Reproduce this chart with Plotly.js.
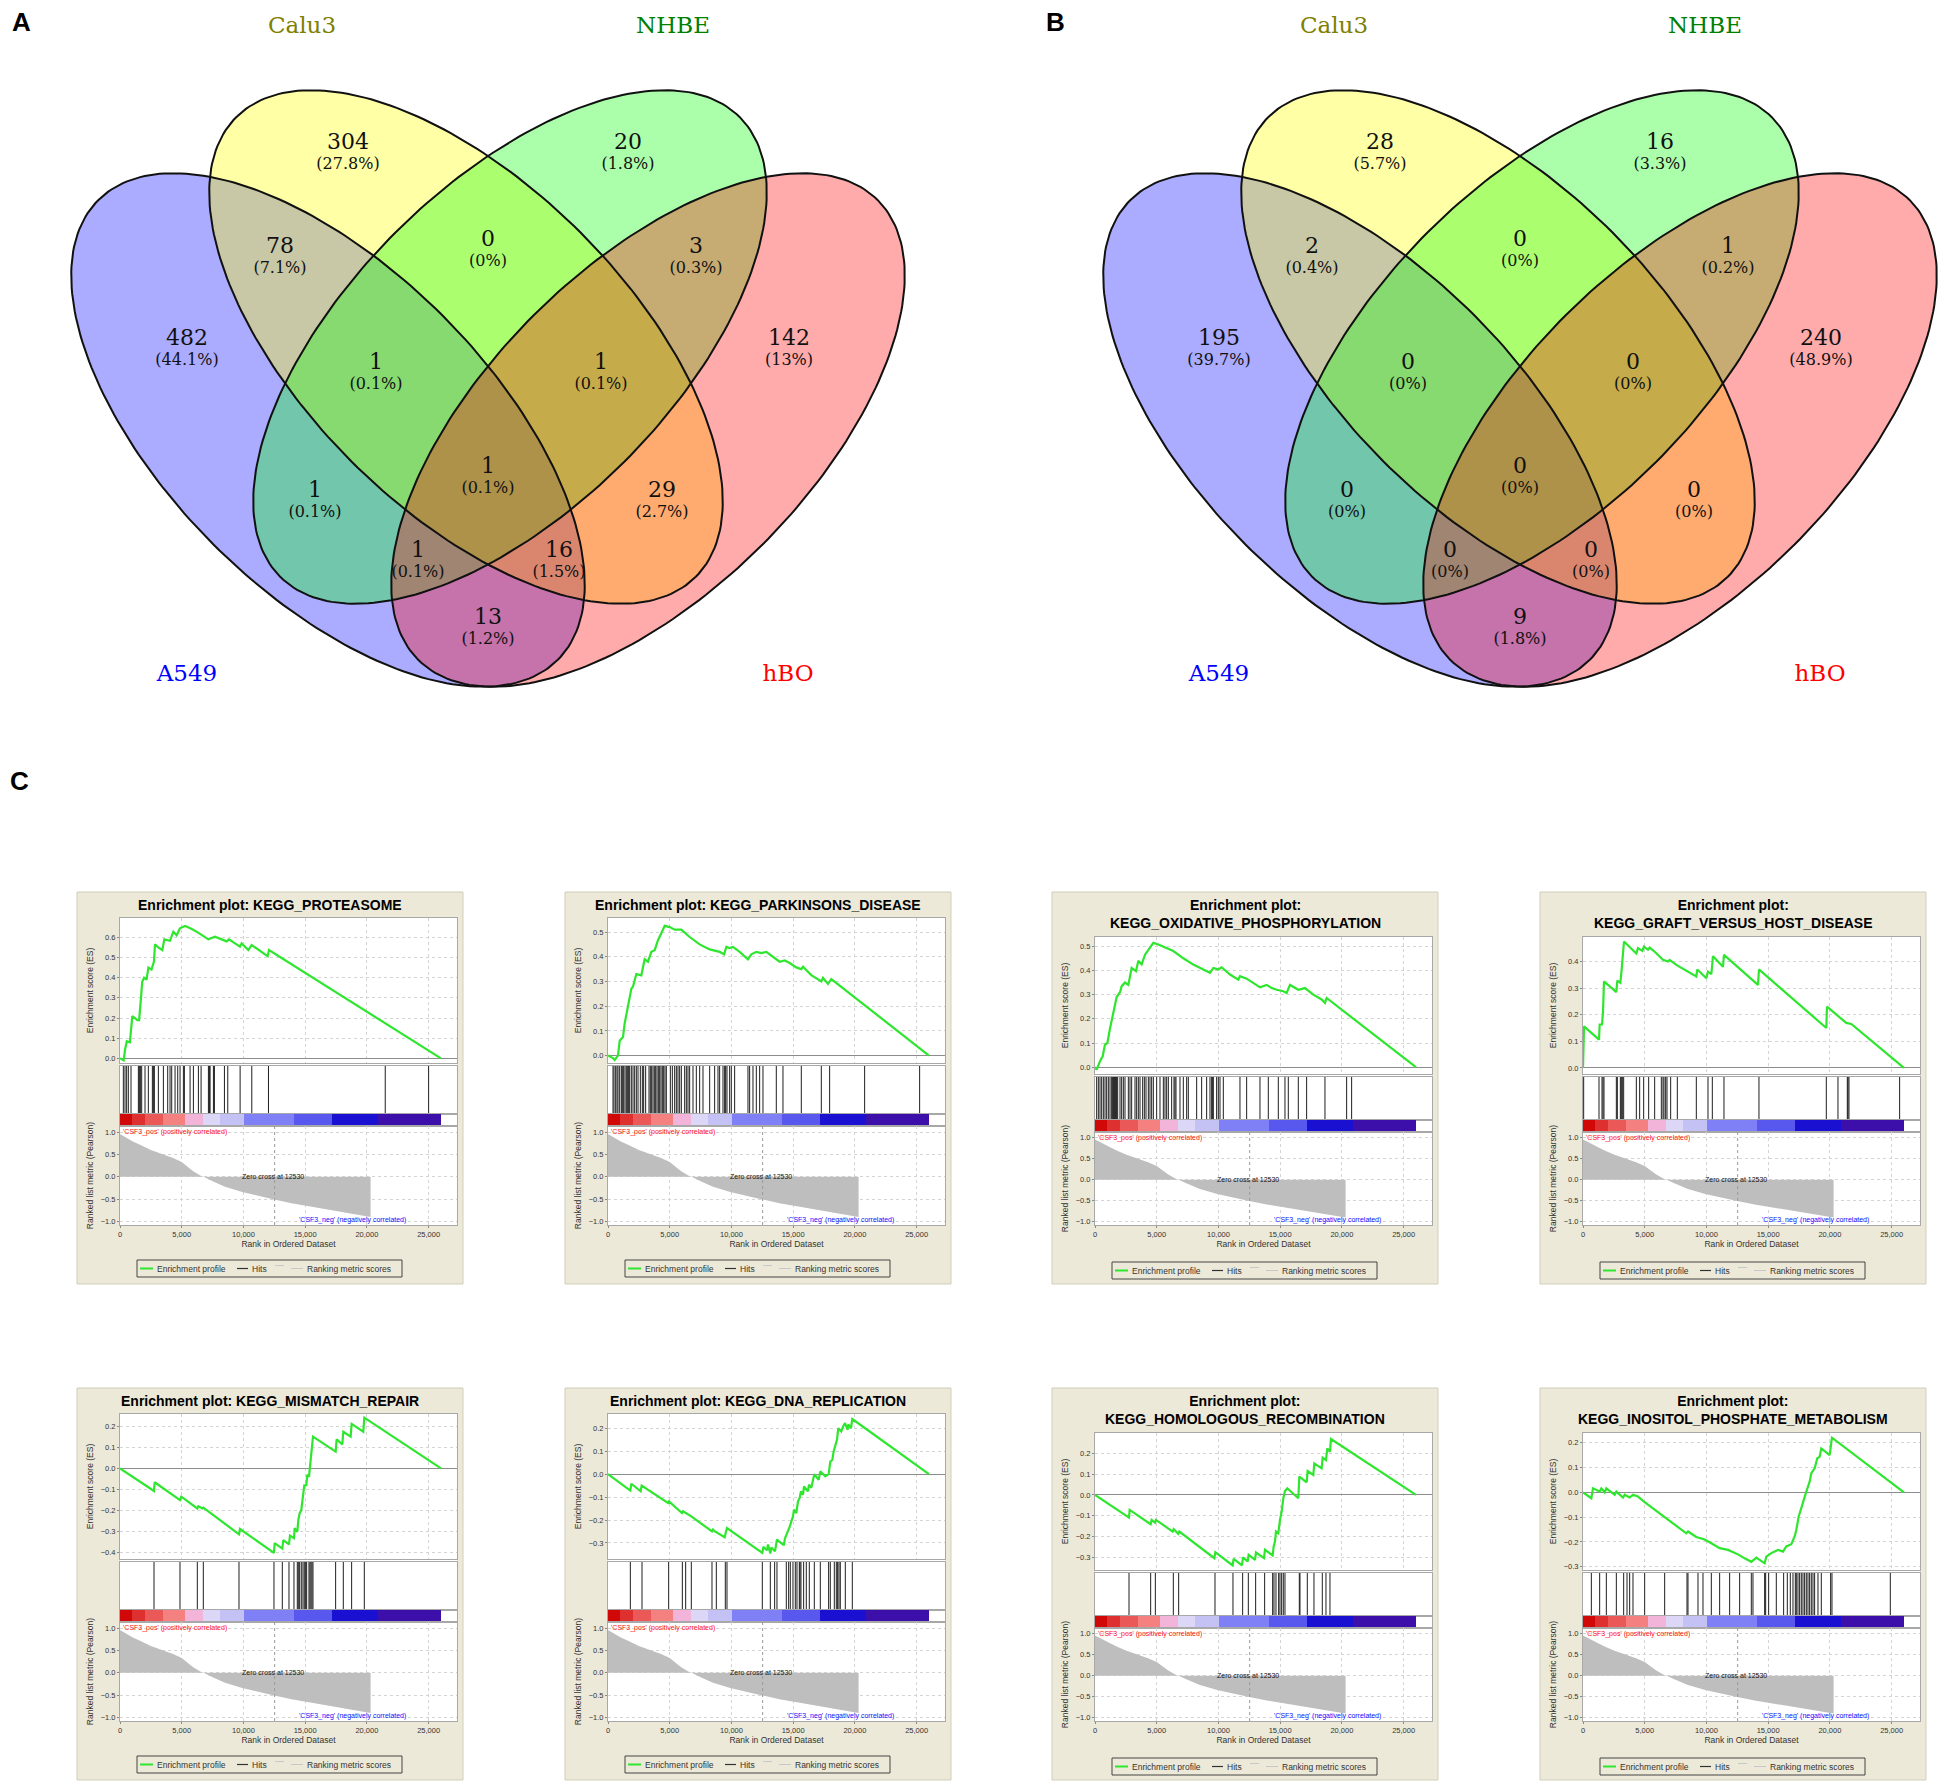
<!DOCTYPE html>
<html><head><meta charset="utf-8">
<script src="https://cdn.plot.ly/plotly-3.0.1.min.js"></script>
<style>html,body{margin:0;padding:0;background:#fff}</style>
</head><body><div id="chart" style="width:1950px;height:1790px"></div>
<script>
// ================= DATA =================
// Venn diagrams (regions in fixed order)
const setNames = ['A549','Calu3','NHBE','hBO'];
const regionKeys = ['A549','Calu3','NHBE','hBO','A549&Calu3','Calu3&NHBE','NHBE&hBO','A549&Calu3&NHBE','Calu3&NHBE&hBO','A549&Calu3&NHBE&hBO','A549&NHBE','Calu3&hBO','A549&NHBE&hBO','A549&Calu3&hBO','A549&hBO'];
const vennACounts = [482,304,20,142,78,0,3,1,1,1,1,29,1,16,13];
const vennAPercents = [44.1,27.8,1.8,13,7.1,0,0.3,0.1,0.1,0.1,0.1,2.7,0.1,1.5,1.2];
const vennBCounts = [195,28,16,240,2,0,1,0,0,0,0,0,0,0,9];
const vennBPercents = [39.7,5.7,3.3,48.9,0.4,0,0.2,0,0,0,0,0,0,0,1.8];

// GSEA enrichment plots
const pathways = ['KEGG_PROTEASOME','KEGG_PARKINSONS_DISEASE','KEGG_OXIDATIVE_PHOSPHORYLATION','KEGG_GRAFT_VERSUS_HOST_DISEASE','KEGG_MISMATCH_REPAIR','KEGG_DNA_REPLICATION','KEGG_HOMOLOGOUS_RECOMBINATION','KEGG_INOSITOL_PHOSPHATE_METABOLISM'];

const esRank1 = [0,300,400,550,800,900,1000,1400,1550,1700,1800,1950,2150,2300,2550,2750,2835,3100,3429,3591,4050,4320,4590,4860,5265,5700,6300,7155,7695,8640,8829,9720,9855,10395,10665,11961,12069,26000];
const esScore1 = [0,-0.01,0.04,0.085,0.08,0.16,0.21,0.19,0.19,0.30,0.38,0.40,0.39,0.45,0.44,0.48,0.565,0.55,0.537,0.59,0.583,0.628,0.61,0.645,0.656,0.645,0.625,0.59,0.603,0.58,0.59,0.554,0.57,0.537,0.562,0.507,0.537,0];
const hits1 = [270,405,540,676,892,1487,1568,1649,1757,2027,2297,2622,2703,2784,3108,3514,3865,4054,4189,4460,4676,4865,5135,5216,5676,5946,6351,6568,7162,7243,7297,7568,7649,8460,8730,9730,10676,12027,21487,25000];

const esRank2 = [0,400,540,810,945,1215,1350,1620,1890,2025,2295,2700,2970,3240,3510,3780,4050,4320,4590,5000,5400,5940,6615,7425,8235,9045,9400,9585,9855,10125,10665,11340,11610,12015,12420,12825,13365,13905,14310,14715,15255,15660,15795,16470,17280,17415,17820,18090,26000];
const esScore2 = [0,-0.01,-0.018,0,0.06,0.075,0.13,0.2,0.27,0.28,0.33,0.325,0.39,0.38,0.42,0.427,0.467,0.495,0.525,0.52,0.51,0.51,0.48,0.45,0.43,0.42,0.41,0.44,0.435,0.44,0.42,0.39,0.41,0.42,0.415,0.42,0.40,0.38,0.385,0.375,0.357,0.35,0.36,0.326,0.30,0.315,0.29,0.31,0];
const hits2 = [405,486,621,729,810,945,1080,1161,1269,1377,1485,1593,1674,1755,1890,2025,2160,2295,2430,2619,2781,2889,3051,3321,3429,3537,3645,3753,3861,3969,4077,4185,4293,4401,4509,4617,4725,5049,5211,5400,5535,5670,5805,5940,6210,6345,6480,6615,6885,7155,7425,7695,8235,8640,8910,9045,9315,9450,9531,9639,9855,9990,10260,11340,11475,11745,12015,12285,12555,13635,14175,15660,17280,17955,20790,25245];

const esRank3 = [0,135,405,621,810,1000,1215,1485,1755,2025,2160,2430,2700,2970,3321,3510,3780,4050,4320,4725,5130,5670,6345,7155,7965,8775,9315,9585,9990,10260,10935,11610,11745,12285,12825,13365,13905,14310,14715,15255,15525,15795,16470,17010,17685,18360,18630,18765,26000];
const esScore3 = [0,-0.01,0.025,0.045,0.094,0.1,0.16,0.22,0.29,0.31,0.335,0.35,0.34,0.41,0.397,0.44,0.425,0.465,0.486,0.514,0.507,0.496,0.48,0.45,0.424,0.404,0.39,0.41,0.404,0.413,0.383,0.362,0.376,0.366,0.348,0.33,0.34,0.327,0.32,0.314,0.307,0.34,0.32,0.327,0.30,0.28,0.266,0.286,0];
const hits3 = [135,270,405,540,675,810,945,1080,1215,1350,1431,1485,1539,1593,1647,1701,1755,1836,2025,2160,2295,2430,2700,2835,2970,3240,3375,3510,3645,3861,3996,4131,4320,4455,4590,4725,4995,5265,5535,5670,5805,5940,6210,6399,6480,6561,6885,7155,7425,7560,8235,8640,9045,9315,9450,9531,9585,9855,9990,10125,10395,11745,12285,13365,14040,14850,15390,15660,16470,17145,18630,20385,20790];

const esRank4 = [0,54,81,1296,1350,1539,1620,1700,2700,2781,3024,3105,3240,3321,4320,4455,4806,4941,5265,5400,5724,6480,6885,7020,7560,9180,9261,9990,10125,10395,10530,11340,11421,14175,14256,19710,19764,21330,21735,26000];
const esScore4 = [0,0.075,0.156,0.106,0.163,0.163,0.21,0.325,0.285,0.328,0.32,0.356,0.43,0.475,0.43,0.45,0.44,0.456,0.444,0.452,0.44,0.406,0.40,0.406,0.387,0.344,0.37,0.337,0.362,0.352,0.42,0.38,0.425,0.312,0.37,0.15,0.23,0.169,0.165,0];
const hits4 = [54,1296,1539,1620,1700,2700,2781,3024,3105,3186,3294,4320,4590,4914,5319,5805,6345,6480,6561,6696,6804,7101,7641,9180,10125,10476,11421,14256,19710,20655,21411,21465,21546,25650];

const esRank5 = [0,2754,2808,4860,4968,6264,6345,6669,6750,9639,9720,12474,12528,13149,13230,13689,13770,14094,14148,14364,14445,14553,14688,14823,14931,15093,15174,15309,15390,15471,15552,15633,17469,17550,18009,18090,18684,18765,19710,19791,26000];
const esScore5 = [0,-0.107,-0.066,-0.15,-0.134,-0.19,-0.18,-0.19,-0.186,-0.312,-0.287,-0.40,-0.354,-0.38,-0.34,-0.36,-0.318,-0.33,-0.283,-0.30,-0.245,-0.213,-0.197,-0.14,-0.08,-0.08,-0.03,-0.04,0.008,0.055,0.10,0.15,0.079,0.137,0.113,0.173,0.15,0.21,0.173,0.24,0];
const hits5 = [2754,4860,6264,6750,9639,12474,13149,13689,14094,14364,14445,14553,14688,14823,14931,15039,15120,15309,15390,15471,15552,15633,17469,18090,18765,19791];

const esRank6 = [0,1809,1890,2646,2727,4860,4941,5994,6075,6750,8424,8505,8667,9450,9558,9639,12501,12582,12879,12960,13149,13230,13527,13689,14175,14256,14337,14715,14985,15066,15255,15390,15525,15633,15795,15876,16200,16281,16470,16713,17064,17199,17604,17874,18009,18171,18279,18441,18549,18657,18900,19035,19200,19413,19467,19683,19791,26000];
const esScore6 = [0,-0.072,-0.042,-0.075,-0.05,-0.126,-0.119,-0.17,-0.162,-0.184,-0.25,-0.242,-0.25,-0.275,-0.25,-0.235,-0.343,-0.317,-0.332,-0.307,-0.346,-0.32,-0.336,-0.285,-0.307,-0.307,-0.28,-0.23,-0.184,-0.155,-0.17,-0.12,-0.104,-0.075,-0.09,-0.054,-0.075,-0.046,-0.06,0.0,-0.025,0.012,-0.01,0.0,0.055,0.062,0.099,0.128,0.15,0.2,0.186,0.207,0.222,0.193,0.217,0.2,0.24,0];
const hits6 = [1809,2754,4914,6021,6291,6750,8424,8775,9504,9639,12501,13149,13500,13689,14445,14634,14769,14985,15174,15309,15498,15552,15633,15849,16065,16308,16713,17199,17874,18009,18333,18495,18603,18711,18819,19224,19791];

const esRank7 = [0,2754,2808,4509,4590,4860,4941,6291,6372,6750,6831,9666,9747,11151,11232,11907,11988,12366,12447,12960,13041,13689,13770,14391,14472,14580,14661,14850,14985,15120,15255,15390,15579,16470,16551,17145,17226,17685,17766,18360,18441,18711,18819,19035,19116,26000];
const esScore7 = [0,-0.109,-0.072,-0.141,-0.12,-0.133,-0.12,-0.176,-0.165,-0.187,-0.176,-0.304,-0.275,-0.339,-0.307,-0.339,-0.30,-0.32,-0.288,-0.312,-0.277,-0.304,-0.264,-0.291,-0.248,-0.224,-0.176,-0.184,-0.12,-0.08,-0.016,0.019,0.032,-0.016,0.088,0.061,0.115,0.096,0.152,0.128,0.179,0.168,0.224,0.208,0.269,0];
const hits7 = [2754,4509,4887,6345,6777,9720,11178,11961,12420,13014,13743,14391,14499,14661,14877,14985,15120,15255,15390,16551,16605,17199,17739,18414,18711,19035];

const esRank8 = [0,675,810,1350,1485,1755,1890,2565,2700,3240,3375,3780,4050,4455,4995,5805,6615,7425,8370,8505,9180,9855,10395,11070,11745,12555,13095,13635,14040,14310,14715,14850,15255,15795,16200,16470,16875,17145,17280,17469,17631,17820,18090,18360,18495,18765,18981,19170,19305,19980,20169,26000];
const esScore8 = [0,-0.024,0.016,0.003,0.016,0,0.016,-0.01,0.003,-0.021,-0.01,-0.021,-0.01,-0.017,-0.04,-0.071,-0.10,-0.13,-0.165,-0.158,-0.18,-0.19,-0.205,-0.225,-0.232,-0.25,-0.266,-0.28,-0.263,-0.272,-0.286,-0.259,-0.245,-0.232,-0.239,-0.218,-0.209,-0.178,-0.152,-0.098,-0.07,-0.044,0.003,0.043,0.077,0.097,0.137,0.143,0.177,0.15,0.22,0];
const hits8 = [675,1350,1890,2700,3294,3564,3780,4050,4995,6615,8424,8505,9315,9720,10395,11070,11880,12690,13635,13770,14715,14796,15039,15660,16254,16551,16794,17010,17199,17280,17415,17550,17685,17820,17955,18090,18225,18360,18495,18630,18765,19035,19305,20061,20169,24894];

// Ranked list metric (shared by all plots)
const metricRank  = [0,500,1000,1750,2500,3400,4300,5000,5900,6500,6800,7200,8500,9900,11200,12400,13900,15300,16600,18000,19300,20300];
const metricValue = [0.96,0.88,0.80,0.70,0.60,0.51,0.42,0.33,0.13,0.03,0.0,-0.06,-0.22,-0.34,-0.43,-0.50,-0.59,-0.66,-0.73,-0.79,-0.85,-0.90];
const zeroCross = 12530;
// colour strip of the ranked list (bin edges in rank, bin level index)
const cbEdges  = [0,945,2025,3510,5265,6696,8127,10071,14094,17199,20871,26000];
const cbLevels = [0,1,2,3,4,5,6,7,8,9,10];

// ================= STYLE / LAYOUT =================
const W = 1950, H = 1790;
const px = x => x / W, py = y => 1 - y / H;
const FONT = 'Liberation Sans, Arial, sans-serif';
const SERIF = 'DejaVu Serif, Liberation Serif, serif';
const cbColors = ['#d10808','#df3030','#ea5858','#f48080','#f3b4da','#dcd6f7','#c4c2f5','#8080f6','#5858ee','#1a10d2','#3c0eaa'];
const setFill = ['rgba(0,0,255,0.33)','rgba(255,255,0,0.35)','rgba(0,255,0,0.33)','rgba(255,0,0,0.33)'];
const setLabelColor = ['#0000ff','#808000','#008000','#ff0000'];
const vennCenters = [488, 1520];
const ellGeom = [{dx:-160,cy:430,ang:45},{dx:-22,cy:347,ang:45},{dx:22,cy:347,ang:135},{dx:160,cy:430,ang:135}];
const ellA = 325, ellB = 162;
const regionPos = [[-301,339],[-140,143],[140,143],[301,339],[-208,247],[0,240],[208,247],[-112,363],[113,363],[0,467],[-173,491],[174,491],[-70,551],[71,551],[0,618]];
const setLabelPos = [[-301,675],[-186,27],[185,27],[300,675]];

const traces = [];
const layout = {
  width: W, height: H, autosize: false,
  margin: {l:0, r:0, t:0, b:0, pad:0},
  paper_bgcolor: 'white', plot_bgcolor: 'rgba(0,0,0,0)',
  showlegend: false,
  font: {family: FONT, color: '#333'},
  xaxis: {domain:[0,1], range:[0,W], visible:false, fixedrange:true},
  yaxis: {domain:[0,1], range:[H,0], visible:false, fixedrange:true},
  shapes: [], annotations: []
};

// ---------- Venn ----------
function ellipsePts(cx, cy, a, b, angDeg) {
  const xs = [], ys = [], r = angDeg * Math.PI / 180;
  for (let k = 0; k <= 240; k++) {
    const t = 2 * Math.PI * k / 240, u = a * Math.cos(t), v = b * Math.sin(t);
    xs.push(cx + u * Math.cos(r) - v * Math.sin(r));
    ys.push(cy + u * Math.sin(r) + v * Math.cos(r));
  }
  return {xs, ys};
}
const vennData = [[vennACounts, vennAPercents], [vennBCounts, vennBPercents]];
vennCenters.forEach((Xc, vi) => {
  const pts = ellGeom.map(g => ellipsePts(Xc + g.dx, g.cy, ellA, ellB, g.ang));
  pts.forEach((p, si) => traces.push({x:p.xs, y:p.ys, mode:'lines', fill:'toself', fillcolor:setFill[si], line:{width:0, color:'rgba(0,0,0,0)'}, hoverinfo:'skip', xaxis:'x', yaxis:'y'}));
  pts.forEach(p => traces.push({x:p.xs, y:p.ys, mode:'lines', line:{width:2, color:'#111'}, hoverinfo:'skip', xaxis:'x', yaxis:'y'}));
  const [counts, pcts] = vennData[vi];
  traces.push({x:regionPos.map(r => Xc + r[0]), y:regionPos.map(r => r[1]), mode:'text', text:counts.map(String), textposition:'middle center', textfont:{family:SERIF, size:22, color:'#111'}, hoverinfo:'skip', xaxis:'x', yaxis:'y'});
  traces.push({x:regionPos.map(r => Xc + r[0]), y:regionPos.map(r => r[1] + 22), mode:'text', text:pcts.map(p => '(' + p + '%)'), textposition:'middle center', textfont:{family:SERIF, size:16, color:'#111'}, hoverinfo:'skip', xaxis:'x', yaxis:'y'});
  traces.push({x:setLabelPos.map(r => Xc + r[0]), y:setLabelPos.map(r => r[1]), mode:'text', text:setNames, textposition:'middle center', textfont:{family:SERIF, size:23, color:setLabelColor}, hoverinfo:'skip', xaxis:'x', yaxis:'y'});
});
[['A',21,22],['B',1055,22],['C',19,781]].forEach(([t,x,y]) => layout.annotations.push({text:'<b>'+t+'</b>', x:px(x), y:py(y), xref:'paper', yref:'paper', showarrow:false, xanchor:'center', yanchor:'middle', font:{family:FONT, size:26, color:'#000'}}));

// ---------- GSEA panels ----------
const esRanks = [esRank1,esRank2,esRank3,esRank4,esRank5,esRank6,esRank7,esRank8];
const esScores = [esScore1,esScore2,esScore3,esScore4,esScore5,esScore6,esScore7,esScore8];
const hitsAll = [hits1,hits2,hits3,hits4,hits5,hits6,hits7,hits8];
const esRanges = [[-0.023,0.696],[-0.03,0.557],[-0.028,0.538],[-0.023,0.492],[-0.429,0.257],[-0.37,0.262],[-0.361,0.298],[-0.313,0.239]];
const panelX = [77,565,1052,1540], panelY = [892,1388];
const twoLine = [false,false,true,true,false,false,true,true];
const XMAX = 27300;
const cbScale = [];
cbColors.forEach((c,k) => { cbScale.push([k/cbColors.length, c]); cbScale.push([(k+1)/cbColors.length, c]); });

const frame = {showline:true, mirror:true, linecolor:'#a8a8a8', linewidth:1, fixedrange:true};
const grid = {showgrid:true, gridcolor:'#d4d4d4', griddash:'dot', gridwidth:1};

pathways.forEach((pw, i) => {
  const col = i % 4, row = i < 4 ? 0 : 1, two = twoLine[i];
  const ox = panelX[col], oy = panelY[row];
  const L = ox + 43, R = ox + 380;
  const esTop = oy + (two ? 45 : 26), esBot = oy + (two ? 182 : 171);
  const hTop = esBot + 3, hBot = oy + (two ? 228 : 222), cbBot = oy + (two ? 240 : 234), mBot = oy + 333;
  const n = 2 + i * 4, nh = n + 1, nc = n + 2, nm = n + 3;
  const xd = [px(L), px(R)];

  // backgrounds
  layout.shapes.push({type:'rect', xref:'paper', yref:'paper', x0:px(ox), x1:px(ox+386), y0:py(oy+392), y1:py(oy), fillcolor:'#ece9d8', line:{color:'#d2cebb', width:1}, layer:'below'});
  layout.shapes.push({type:'rect', xref:'paper', yref:'paper', x0:xd[0], x1:xd[1], y0:py(mBot), y1:py(esTop), fillcolor:'#ffffff', line:{width:0}, layer:'below'});

  // axes
  layout['xaxis'+n] = Object.assign({domain:xd, range:[0,XMAX], anchor:'y'+n, showticklabels:false, ticks:'', dtick:5000, tick0:0, zeroline:false}, grid, frame);
  layout['yaxis'+n] = Object.assign({domain:[py(esBot), py(esTop)], range:esRanges[i], anchor:'x'+n, dtick:0.1, tick0:0, tickformat:'.1f', ticks:'outside', ticklen:2, tickcolor:'#888', tickfont:{size:7.5, color:'#333'}, zeroline:true, zerolinecolor:'#8c8c8c', zerolinewidth:1, title:{text:'Enrichment score (ES)', font:{size:8.5, color:'#333'}}}, grid, frame);
  layout['xaxis'+nh] = Object.assign({domain:xd, range:[0,XMAX], anchor:'y'+nh, showticklabels:false, ticks:'', showgrid:false, zeroline:false}, frame);
  layout['yaxis'+nh] = Object.assign({domain:[py(hBot), py(hTop)], range:[0,1], anchor:'x'+nh, showticklabels:false, ticks:'', showgrid:false, zeroline:false}, frame);
  layout['xaxis'+nc] = Object.assign({domain:xd, range:[0,XMAX], anchor:'y'+nc, showticklabels:false, ticks:'', showgrid:false, zeroline:false}, frame);
  layout['yaxis'+nc] = Object.assign({domain:[py(cbBot), py(hBot)], range:[0,1], anchor:'x'+nc, showticklabels:false, ticks:'', showgrid:false, zeroline:false}, frame);
  layout['xaxis'+nm] = Object.assign({domain:xd, range:[0,XMAX], anchor:'y'+nm, dtick:5000, tick0:0, tickformat:',d', ticks:'outside', ticklen:2, tickcolor:'#888', tickfont:{size:7.5, color:'#333'}, zeroline:false, title:{text:'Rank in Ordered Dataset', font:{size:8.5, color:'#333'}, standoff:2}}, grid, frame);
  layout['yaxis'+nm] = Object.assign({domain:[py(mBot), py(cbBot)], range:[-1.08,1.14], anchor:'x'+nm, tickvals:[-1,-0.5,0,0.5,1], tickformat:'.1f', ticks:'outside', ticklen:2, tickcolor:'#888', tickfont:{size:7.5, color:'#333'}, zeroline:false, title:{text:'Ranked list metric (Pearson)', font:{size:8.5, color:'#333'}}}, grid, frame);

  // traces
  traces.push({x:metricRank, y:metricValue, mode:'lines', fill:'tozeroy', fillcolor:'#bebebe', line:{width:0, color:'#bebebe'}, hoverinfo:'skip', xaxis:'x'+nm, yaxis:'y'+nm});
  traces.push({x:esRanks[i], y:esScores[i], mode:'lines', line:{color:'#2ee62e', width:2.2}, hoverinfo:'skip', xaxis:'x'+n, yaxis:'y'+n});
  const hx = [], hy = [];
  hitsAll[i].forEach(h => { hx.push(h, h, null); hy.push(0, 1, null); });
  traces.push({x:hx, y:hy, mode:'lines', line:{color:'#1e1e1e', width:1}, hoverinfo:'skip', xaxis:'x'+nh, yaxis:'y'+nh});
  traces.push({type:'heatmap', x:cbEdges, y:[0,1], z:[cbLevels], zmin:-0.5, zmax:cbColors.length-0.5, colorscale:cbScale, showscale:false, hoverinfo:'skip', xaxis:'x'+nc, yaxis:'y'+nc});

  // zero-cross marker and labels
  layout.shapes.push({type:'line', xref:'x'+nm, yref:'y'+nm+' domain', x0:zeroCross, x1:zeroCross, y0:0, y1:1, line:{color:'#9a9a9a', width:1, dash:'dot'}});
  layout.annotations.push({xref:'x'+nm, yref:'y'+nm, x:60, y:1.0, text:"'CSF3_pos' (positively correlated)", showarrow:false, xanchor:'left', yanchor:'middle', font:{size:7, color:'#ff1010'}});
  layout.annotations.push({xref:'x'+nm, yref:'y'+nm, x:zeroCross-150, y:0.0, text:'Zero cross at '+zeroCross, showarrow:false, xanchor:'center', yanchor:'middle', font:{size:7, color:'#111'}});
  layout.annotations.push({xref:'x'+nm, yref:'y'+nm, x:18800, y:-0.96, text:"'CSF3_neg' (negatively correlated)", showarrow:false, xanchor:'center', yanchor:'middle', font:{size:7, color:'#1010ff'}});

  // title
  layout.annotations.push({xref:'paper', yref:'paper', x:px(ox+193), y:py(oy + (two ? 22 : 13)), text:'<b>Enrichment plot:' + (two ? '<br>' : ' ') + pw + '</b>', showarrow:false, xanchor:'center', yanchor:'middle', font:{family:FONT, size:14, color:'#000'}});

  // legend box
  const lg0 = oy + (two ? 370 : 368), lg1 = oy + (two ? 387 : 385), lm = (lg0 + lg1) / 2;
  layout.shapes.push({type:'rect', xref:'paper', yref:'paper', x0:px(L+17), x1:px(L+282), y0:py(lg1), y1:py(lg0), line:{color:'#444', width:1}, fillcolor:'rgba(0,0,0,0)'});
  const legLine = (x0, x1, y, c, w) => layout.shapes.push({type:'line', xref:'paper', yref:'paper', x0:px(x0), x1:px(x1), y0:py(y), y1:py(y), line:{color:c, width:w}});
  legLine(L+20, L+33, lm, '#2ee62e', 2);
  legLine(L+117, L+128, lm, '#333', 1.2);
  legLine(L+155, L+164, lm-3, '#c8c8c8', 1);
  legLine(L+171, L+183, lm, '#c8c8c8', 1);
  [['Enrichment profile', L+34.5], ['Hits', L+130], ['Ranking metric scores', L+184.5]].forEach(([t, x]) =>
    layout.annotations.push({xref:'paper', yref:'paper', x:px(x), y:py(lm), text:t, showarrow:false, xanchor:'left', yanchor:'middle', font:{size:8.5, color:'#333'}}));
});

Plotly.newPlot('chart', traces, layout, {staticPlot:true, displayModeBar:false});
</script>
</body></html>
